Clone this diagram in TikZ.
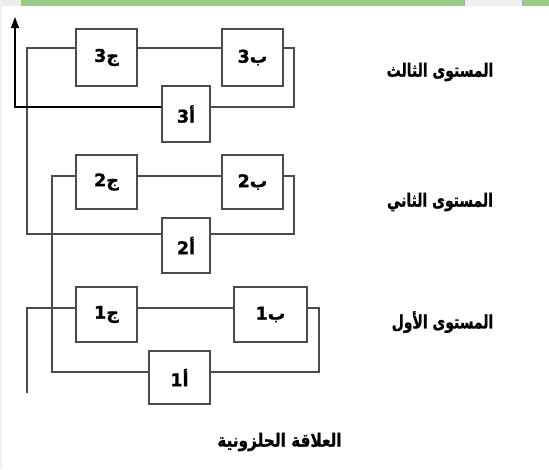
\documentclass[tikz,border=0pt]{standalone}
\usepackage{fontspec}
\usetikzlibrary{arrows.meta}
\TeXXeTstate=1
\newfontfamily\arabicfont[Script=Arabic, BoldFeatures={FakeBold=1.2}]{DejaVu Sans}
\definecolor{bandgreen}{RGB}{155,201,132}
\definecolor{linegray}{RGB}{75,75,75}
\tikzset{
  blk/.style={draw=linegray, line width=1.2pt, fill=white, inner sep=0pt,
    font=\arabicfont\bfseries\fontsize{17.5}{20}\selectfont},
  wire/.style={draw=linegray, line width=1.2pt},
  lvl/.style={font=\arabicfont\bfseries\fontsize{17}{20}\selectfont, inner sep=0pt, yscale=1.08}
}
\begin{document}
\begin{tikzpicture}[x=1pt,y=-1pt]
\useasboundingbox (0,0) rectangle (549,469);
% top band
\fill[gray!15] (0,0) rectangle (21,6);
\fill[bandgreen] (21,0) rectangle (464,6);
\fill[gray!12] (464,0) rectangle (523,6);
\draw[gray!70, line width=0.8pt] (464.5,0) -- (464.5,6) (522.5,0) -- (522.5,6);
\fill[bandgreen] (523,0) rectangle (549,6);
\fill[gray!12] (0,0) rectangle (2,469);
% boxes
\node[blk, minimum width=61pt, minimum height=57pt] (c3) at (106.5,57.5) {\beginR ج3\endR};
\node[blk, minimum width=61pt, minimum height=57pt] (b3) at (252.5,57.5) {\beginR ب3\endR};
\node[blk, minimum width=48pt, minimum height=56pt] (a3) at (186,114) {\beginR أ3\endR};
\node[blk, minimum width=61pt, minimum height=54pt] (c2) at (106.5,182) {\beginR ج2\endR};
\node[blk, minimum width=61pt, minimum height=54pt] (b2) at (252.5,182) {\beginR ب2\endR};
\node[blk, minimum width=48pt, minimum height=55pt] (a2) at (186,245.5) {\beginR أ2\endR};
\node[blk, minimum width=61pt, minimum height=55pt] (c1) at (106.5,314.5) {\beginR ج1\endR};
\node[blk, minimum width=73pt, minimum height=55pt] (b1) at (270.5,314.5) {\beginR ب1\endR};
\node[blk, minimum width=61pt, minimum height=53pt] (a1) at (179.5,377.5) {\beginR أ1\endR};
% helper coordinates
\coordinate (s0) at (27,393);
\coordinate (s1) at (27,308);
\coordinate (r1t) at (319,308);
\coordinate (r1b) at (319,372);
\coordinate (l1) at (52,372);
\coordinate (l1t) at (52,176);
\coordinate (r2t) at (294,176);
\coordinate (r2b) at (294,234);
\coordinate (l2) at (27,234);
\coordinate (l2t) at (27,48);
\coordinate (r3t) at (294,48);
\coordinate (r3b) at (294,107);
\coordinate (l3) at (15,107);
\coordinate (e) at (15,17);
% spiral
\draw[wire] (s0) -- (s1) -- (c1.west |- s1);
\draw[wire] (c1.east |- s1) -- (b1.west |- s1);
\draw[wire] (b1.east |- s1) -- (r1t) -- (r1b) -- (a1.east |- r1b);
\draw[wire] (a1.west |- l1) -- (l1) -- (l1t) -- (c2.west |- l1t);
\draw[wire] (c2.east |- l1t) -- (b2.west |- l1t);
\draw[wire] (b2.east |- r2t) -- (r2t) -- (r2b) -- (a2.east |- r2b);
\draw[wire] (a2.west |- l2) -- (l2) -- (l2t) -- (c3.west |- l2t);
\draw[wire] (c3.east |- l2t) -- (b3.west |- l2t);
\draw[wire] (b3.east |- r3t) -- (r3t) -- (r3b) -- (a3.east |- r3b);
\draw[line width=1.2pt, -{Triangle[width=8pt,length=11pt]}] (a3.west |- l3) -- (l3) -- (e);
% labels
\node[lvl, xscale=0.82] (t3) at (440,72) {\beginR المستوى الثالث\endR};
\node[lvl, xscale=0.82] (t2) at (440,202) {\beginR المستوى الثاني\endR};
\node[lvl, xscale=0.82] (t1) at (442.5,322) {\beginR المستوى الأول\endR};
\node[lvl, xscale=0.9] (cap) at (279.5,442) {\beginR العلاقة الحلزونية\endR};
\end{tikzpicture}
\end{document}
